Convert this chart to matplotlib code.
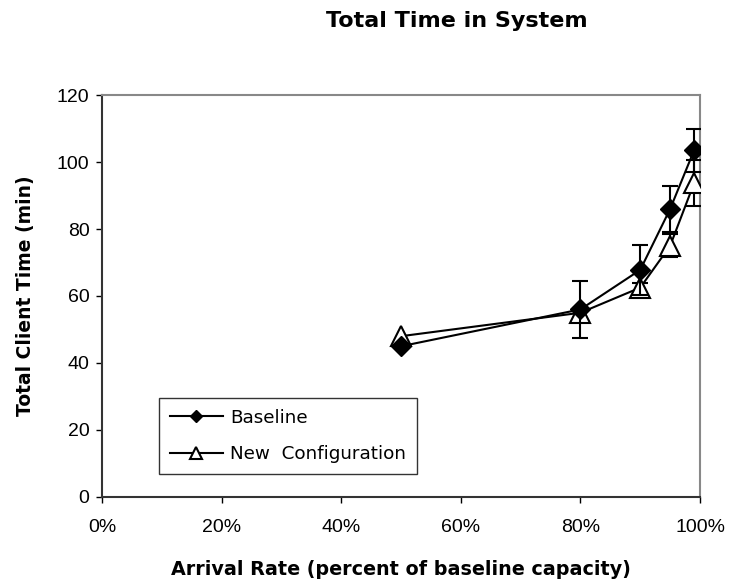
import matplotlib.pyplot as plt
from matplotlib.lines import Line2D
from matplotlib.ticker import PercentFormatter

plt.rcParams['font.family'] = ['Liberation Sans', 'DejaVu Sans']

# Arrival rate (percent of baseline capacity) and mean total client time (min)
rates = [50, 80, 90, 95, 99]
base_time = [45, 56, 67.8, 86, 103.5]
base_err = [0, 8.6, 7.5, 6.8, 6.5]
new_time = [48, 55, 62.5, 75, 93.7]
new_err = [0, 1.5, 1.5, 3.5, 6.8]

fig = plt.figure(figsize=(7.3, 5.88), dpi=100)
ax = fig.add_axes([0.1397, 0.1548, 0.8193, 0.6836])

# New configuration drawn first so the baseline diamonds sit on top
# (no error bar shown at the 50% point)
ax.errorbar(rates, new_time, yerr=new_err, errorevery=(1, 1), color='black',
            lw=1.5, marker='^', ms=14, mfc='white', mec='black', mew=1.5,
            capsize=5.5, capthick=1.5, elinewidth=1.5, zorder=3)
ax.errorbar(rates, base_time, yerr=base_err, errorevery=(1, 1), color='black',
            lw=1.5, marker='D', ms=10, mfc='black', mec='black',
            capsize=5.5, capthick=1.5, elinewidth=1.5, zorder=4)

ax.set_xlim(0, 100)
ax.set_ylim(0, 120)
ax.set_xticks([0, 20, 40, 60, 80, 100])
ax.set_yticks([0, 20, 40, 60, 80, 100, 120])
ax.xaxis.set_major_formatter(PercentFormatter(decimals=0))
ax.tick_params(direction='out', length=4, width=1, labelsize=14, pad=12)
ax.tick_params(axis='y', pad=5)

for side in ['left', 'bottom']:
    ax.spines[side].set_color('#333333')
    ax.spines[side].set_linewidth(1.5)
for side in ['top', 'right']:
    ax.spines[side].set_color('#888888')
    ax.spines[side].set_linewidth(1.5)

# wider bold face to get closer to the spaced-out lettering of the original
ax.set_xlabel('Arrival Rate (percent of baseline capacity)', fontsize=13.8,
              fontweight='bold', family='DejaVu Sans', labelpad=17)
ax.set_ylabel('Total Client Time (min)', fontsize=13.5, fontweight='bold',
              family='DejaVu Sans', labelpad=16)
fig.text(0.626, 0.954, 'Total Time in System', fontsize=16, fontweight='bold',
         family='DejaVu Sans', ha='center', va='baseline')

handles = [
    Line2D([], [], color='black', lw=1.5, marker='D', ms=6, mfc='black'),
    Line2D([], [], color='black', lw=1.5, marker='^', ms=8, mfc='white',
           mew=1.5),
]
leg = ax.legend(handles, ['Baseline', 'New  Configuration'],
                loc='lower left', bbox_to_anchor=(0.095, 0.057),
                prop={'family': 'DejaVu Sans', 'size': 13.2},
                frameon=True, fancybox=False, edgecolor='black',
                handlelength=2.9, borderpad=0.6, labelspacing=1.0,
                handletextpad=0.4, borderaxespad=0)
leg.get_frame().set_linewidth(1.0)

fig.savefig('out.png', dpi=100)
